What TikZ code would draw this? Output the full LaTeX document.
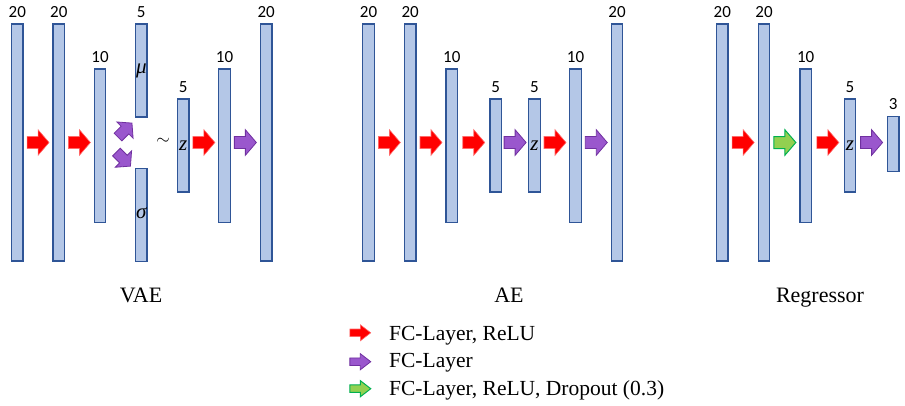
\documentclass[tikz,border=0pt]{standalone}
\usepackage{fontspec}
\setmainfont{Liberation Serif}
\newfontfamily\numfont{Carlito}
\usetikzlibrary{calc}
\definecolor{barfill}{HTML}{B4C7E7}
\definecolor{barline}{HTML}{2F5597}
\definecolor{relufill}{HTML}{FF0000}
\definecolor{reluline}{HTML}{FF6A6A}
\definecolor{linfill}{HTML}{9A57CD}
\definecolor{linline}{HTML}{7030A0}
\definecolor{dropfill}{HTML}{92D050}
\definecolor{dropline}{HTML}{00B050}
\begin{document}
\begin{tikzpicture}[x=1pt,y=-1pt,
  bar/.style={draw=barline, fill=barfill, line width=1.2pt, minimum width=11.5pt,
    inner sep=0pt, font=\fontsize{21}{24}\selectfont\itshape},
  b20/.style={bar, minimum height=237pt},
  b10/.style={bar, minimum height=153.5pt},
  b5/.style={bar, minimum height=93pt},
  b3/.style={bar, minimum height=55pt},
  num/.style={font=\numfont\fontsize{17}{20}\selectfont, inner sep=0pt},
  units/.style={label={[num, label distance=6pt]above:#1}},
  title/.style={font=\fontsize{22}{26}\selectfont, inner sep=0pt, anchor=base},
  legtext/.style={font=\fontsize{21.5}{25}\selectfont, inner sep=0pt, anchor=base west},
  blockarrow/.pic={\path[pic actions] (-11,-6) -- (0,-6) -- (0,-12.8) -- (11,0)
    -- (0,12.8) -- (0,6) -- (-11,6) -- cycle;},
  relu/.style={fill=relufill, draw=reluline, line width=0.6pt},
  lin/.style={fill=linfill, draw=linline, line width=0.8pt},
  drop/.style={fill=dropfill, draw=dropline, line width=1pt},
  legarrow/.style={xscale=0.95, yscale=0.63}
]
\useasboundingbox (0,0) rectangle (905,405);
\coordinate (axis) at (0,142.5);

% ---- VAE ----
\node[b20, units=20] (v1) at (17.3,142.5) {};
\node[b20, units=20] (v2) at (58.8,142.5) {};
\node[b10, units=10] (v3) at (100,145.7) {};
\node[b5, units=5] (vmu) at (141.3,70.5) {μ};
\node[b5] (vsig) at (141.3,214.7) {\raisebox{4pt}{σ}};
\node[b5, units=5] (vz) at (183.3,145.5) {z};
\node[b10, units=10] (v4) at (224.5,145.7) {};
\node[b20, units=20] (v5) at (266.2,142.5) {};
\node[font=\fontsize{16}{18}\selectfont, inner sep=0pt] (sim) at (163,141) {$\sim$};

\pic[relu] at ($(v1.east|-axis)!.5!(v2.west|-axis)$) {blockarrow};
\pic[relu] at ($(v2.east|-axis)!.5!(v3.west|-axis)$) {blockarrow};
\pic[lin, rotate=45, scale=0.9] at ($(vmu.south west)+(-10,12.5)$) {blockarrow};
\pic[lin, rotate=-45, scale=0.9] at ($(vsig.north west)+(-11.5,-8.5)$) {blockarrow};
\pic[relu] at ($(vz.east|-axis)!.5!(v4.west|-axis)$) {blockarrow};
\pic[lin] at ($(v4.east|-axis)!.5!(v5.west|-axis)$) {blockarrow};
\node[title] (tvae) at (141,302.3) {VAE};

% ---- AE ----
\node[b20, units=20] (a1) at (368.5,142.5) {};
\node[b20, units=20] (a2) at (410.2,142.5) {};
\node[b10, units=10] (a3) at (451.8,145.7) {};
\node[b5, units=5] (a4) at (495.7,145.5) {};
\node[b5, units=5] (a5) at (534.5,145.5) {z};
\node[b10, units=10] (a6) at (575.5,145.7) {};
\node[b20, units=20] (a7) at (617,142.5) {};

\pic[relu] at ($(a1.east|-axis)!.5!(a2.west|-axis)$) {blockarrow};
\pic[relu] at ($(a2.east|-axis)!.5!(a3.west|-axis)$) {blockarrow};
\pic[relu] at ($(a3.east|-axis)!.5!(a4.west|-axis)$) {blockarrow};
\pic[lin] at ($(a4.east|-axis)!.5!(a5.west|-axis)$) {blockarrow};
\pic[relu] at ($(a5.east|-axis)!.5!(a6.west|-axis)$) {blockarrow};
\pic[lin] at ($(a6.east|-axis)!.5!(a7.west|-axis)$) {blockarrow};
\node[title] (tae) at (509,302.3) {AE};

% ---- Regressor ----
\node[b20, units=20] (r1) at (722.3,142.5) {};
\node[b20, units=20] (r2) at (764,142.5) {};
\node[b10, units=10] (r3) at (805.7,145.7) {};
\node[b5, units=5] (r4) at (850,145.5) {z};
\node[b3, units=3] (r5) at (893.2,144.2) {};

\pic[relu] at ($(r1.east|-axis)!.5!(r2.west|-axis)$) {blockarrow};
\pic[drop] at ($(r2.east|-axis)!.5!(r3.west|-axis)$) {blockarrow};
\pic[relu] at ($(r3.east|-axis)!.5!(r4.west|-axis)$) {blockarrow};
\pic[lin] at ($(r4.east|-axis)!.5!(r5.west|-axis)$) {blockarrow};
\node[title] (treg) at (820,302.3) {Regressor};

% ---- legend ----
\pic[relu, legarrow] at (360.3,332.8) {blockarrow};
\pic[lin, legarrow] at (360.3,361.7) {blockarrow};
\pic[drop, legarrow] at (360.3,388.7) {blockarrow};
\node[legtext] (l1) at (389,340) {FC-Layer, ReLU};
\node[legtext] (l2) at (389,367.5) {FC-Layer};
\node[legtext] (l3) at (389,395) {FC-Layer, ReLU, Dropout (0.3)};
\end{tikzpicture}
\end{document}
